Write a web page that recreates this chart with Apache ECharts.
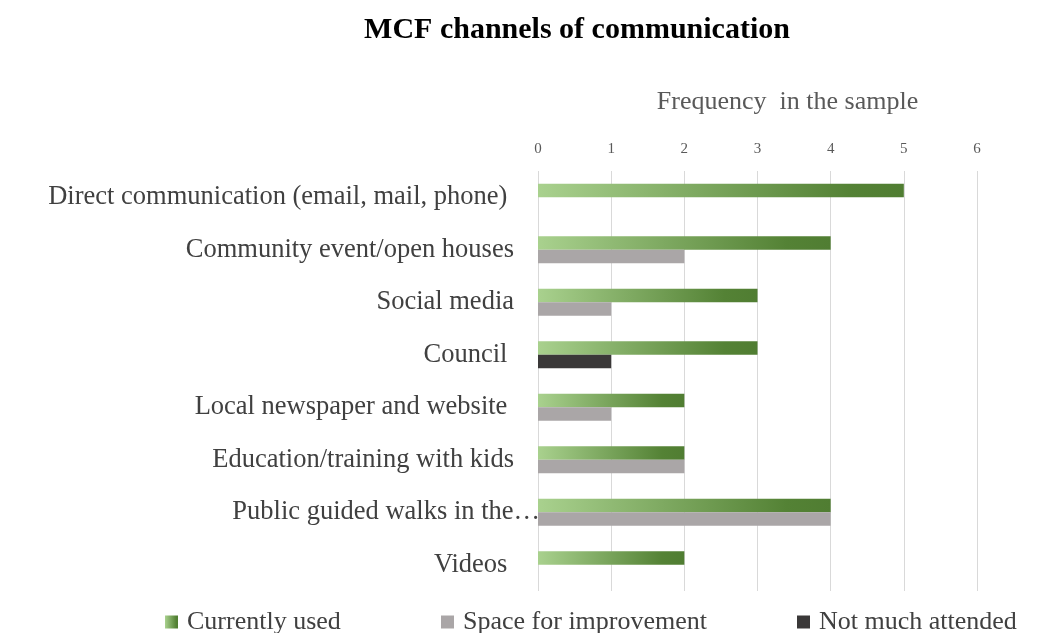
<!DOCTYPE html>
<html>
<head>
<meta charset="utf-8">
<script src="https://cdn.jsdelivr.net/npm/echarts@6/dist/echarts.min.js"></script>
<style>html,body{margin:0;padding:0;background:#fff;}#c{width:1043px;height:633px;}</style>
</head>
<body>
<div id="c"></div>
<script>
var categories = [
  'Direct communication (email, mail, phone) ',
  'Community event/open houses',
  'Social media',
  'Council ',
  'Local newspaper and website ',
  'Education/training with kids',
  'Public guided walks in the\u2026',
  'Videos '
];
var currentlyUsed = [5, 4, 3, 3, 2, 2, 4, 2];
var spaceForImprovement = [0, 2, 1, 0, 1, 2, 4, 0];
var notMuchAttended = [0, 0, 0, 1, 0, 0, 0, 0];
var xTicks = [0, 1, 2, 3, 4, 5, 6];

var serif = "'Liberation Serif', 'Times New Roman', serif";
var labelPadRight = {6: 0};
var catData = categories.map(function (c, i) {
  var pr = (i in labelPadRight) ? labelPadRight[i] : 26;
  return { value: c, textStyle: { padding: [4, pr, 0, 0] } };
});
var greenGrad = new echarts.graphic.LinearGradient(0, 0, 1, 0, [
  { offset: 0, color: '#a9d18e' },
  { offset: 0.85, color: '#548235' },
  { offset: 1, color: '#507d32' }
]);
var chart = echarts.init(document.getElementById('c'), null, { renderer: 'canvas' });
function leg(name, left) {
  return {
    data: [name], left: left, top: 609, padding: 0, icon: 'rect', itemWidth: 13, itemHeight: 13,
    selectedMode: false,
    textStyle: { fontFamily: serif, fontSize: 26, color: '#404040', padding: [0, 0, 0, 4] }
  };
}
chart.setOption({
  animation: false,
  title: {
    text: 'MCF channels of communication', left: 572, textAlign: 'center', top: 10,
    textStyle: { fontFamily: serif, fontSize: 30, fontWeight: 'bold', color: '#000' }
  },
  legend: [leg('Currently used', 165), leg('Space for improvement', 441), leg('Not much attended', 797)],
  grid: { left: 538, right: 66, top: 171, bottom: 42 },
  xAxis: {
    type: 'value', position: 'top', min: xTicks[0], max: xTicks[xTicks.length - 1], interval: 1,
    name: 'Frequency  in the sample', nameLocation: 'middle', nameGap: 56,
    nameTextStyle: { fontFamily: serif, fontSize: 26, color: '#595959', padding: [0, 0, 0, 60] },
    axisLine: { show: false }, axisTick: { show: false },
    axisLabel: { fontFamily: serif, fontSize: 15, color: '#595959', margin: 14 },
    splitLine: { lineStyle: { color: '#d9d9d9', width: 1 } }
  },
  yAxis: {
    type: 'category', inverse: true, data: catData,
    axisLine: { show: false }, axisTick: { show: false },
    axisLabel: { fontFamily: serif, fontSize: 26.5, color: '#404040', margin: -2 }
  },
  series: [
    { name: 'Currently used', type: 'bar', data: currentlyUsed, barWidth: 13.5, barGap: '0%',
      itemStyle: { color: greenGrad } },
    { name: 'Space for improvement', type: 'bar', stack: 'b', data: spaceForImprovement, barWidth: 13.5, barGap: '0%',
      itemStyle: { color: '#aaa6a7' } },
    { name: 'Not much attended', type: 'bar', stack: 'b', data: notMuchAttended, barWidth: 13.5, barGap: '0%',
      itemStyle: { color: '#3a3838' } }
  ]
});
</script>
</body>
</html>
